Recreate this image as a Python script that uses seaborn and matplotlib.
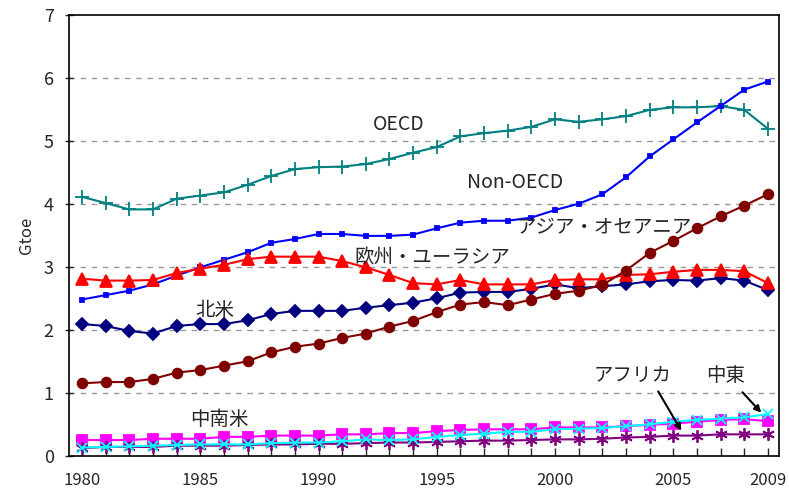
import matplotlib
matplotlib.use("Agg")
import matplotlib.pyplot as plt
import pandas as pd
import numpy as np
import seaborn as sns

# ---------------- data (Gtoe) ----------------
years = list(range(1980, 2010))
oecd = [4.12, 4.02, 3.92, 3.92, 4.09, 4.14, 4.19, 4.31, 4.45, 4.56,
        4.59, 4.60, 4.64, 4.72, 4.82, 4.91, 5.08, 5.13, 5.17, 5.23,
        5.35, 5.31, 5.35, 5.40, 5.50, 5.54, 5.54, 5.56, 5.50, 5.20]
non_oecd = [2.49, 2.56, 2.63, 2.73, 2.87, 3.00, 3.12, 3.24, 3.39, 3.45,
            3.53, 3.53, 3.50, 3.50, 3.52, 3.62, 3.71, 3.74, 3.74, 3.79,
            3.91, 4.01, 4.16, 4.43, 4.76, 5.03, 5.30, 5.56, 5.82, 5.95]
north_america = [2.10, 2.07, 1.99, 1.95, 2.07, 2.10, 2.10, 2.16, 2.26, 2.31,
                 2.31, 2.31, 2.36, 2.40, 2.44, 2.51, 2.60, 2.61, 2.61, 2.66,
                 2.73, 2.67, 2.70, 2.73, 2.78, 2.80, 2.79, 2.83, 2.79, 2.64]
latin_america = [0.26, 0.26, 0.26, 0.28, 0.28, 0.28, 0.31, 0.31, 0.33, 0.33,
                 0.33, 0.35, 0.35, 0.37, 0.37, 0.40, 0.42, 0.43, 0.43, 0.43,
                 0.46, 0.46, 0.46, 0.48, 0.50, 0.52, 0.55, 0.58, 0.59, 0.56]
europe_eurasia = [2.82, 2.79, 2.79, 2.80, 2.91, 2.98, 3.04, 3.13, 3.17, 3.17,
                  3.17, 3.10, 3.00, 2.88, 2.75, 2.73, 2.80, 2.73, 2.73, 2.73,
                  2.80, 2.81, 2.81, 2.88, 2.89, 2.93, 2.96, 2.96, 2.94, 2.75]
africa = [0.13, 0.15, 0.15, 0.15, 0.17, 0.17, 0.17, 0.18, 0.19, 0.19,
          0.20, 0.20, 0.21, 0.22, 0.22, 0.23, 0.24, 0.25, 0.25, 0.26,
          0.27, 0.27, 0.28, 0.30, 0.31, 0.33, 0.33, 0.35, 0.35, 0.35]
middle_east = [0.14, 0.15, 0.16, 0.17, 0.18, 0.19, 0.19, 0.19, 0.21, 0.22,
               0.22, 0.24, 0.27, 0.26, 0.27, 0.31, 0.34, 0.36, 0.39, 0.39,
               0.43, 0.44, 0.45, 0.48, 0.51, 0.55, 0.58, 0.60, 0.62, 0.67]
asia_oceania = [1.16, 1.18, 1.18, 1.23, 1.33, 1.37, 1.44, 1.51, 1.65, 1.74,
                1.79, 1.88, 1.95, 2.06, 2.15, 2.29, 2.41, 2.45, 2.40, 2.49,
                2.58, 2.63, 2.72, 2.95, 3.23, 3.42, 3.62, 3.81, 3.98, 4.16]

x_tick_labels = ["1980", "1985", "1990", "1995", "2000", "2005", "2009"]
y_ticks = [0, 1, 2, 3, 4, 5, 6, 7]

sns.set_style("white")
plt.rcParams['font.family'] = ['Noto Sans CJK JP', 'DejaVu Sans']

fig = plt.figure(figsize=(7.89, 4.95), dpi=100)
ax = fig.add_axes([0.0875, 0.078, 0.8995, 0.891])

# series styles: (values, color, marker, size)
series = [
    (oecd, "#008080", "+", 10),
    (non_oecd, "#0000FF", "s", 3),
    (north_america, "#000080", "D", 6),
    (latin_america, "#FF00FF", "s", 7),
    (europe_eurasia, "#FF0000", "^", 8),
    (africa, "#800080", (6, 2, 0), 9),
    (middle_east, "#00FFFF", "x", 7),
    (asia_oceania, "#800000", "o", 7),
]
for vals, col, mk, ms in series:
    sns.lineplot(x=years, y=vals, ax=ax, color=col, marker=mk, markersize=ms,
                 markeredgecolor=col, markerfacecolor=col, markeredgewidth=1.3,
                 linewidth=1.5)

ax.set_xlim(1979.45, 2009.46)
ax.set_ylim(0, 7)
ax.set_yticks(y_ticks)
ax.set_yticklabels([str(v) for v in y_ticks], fontsize=13)
ax.set_xticks([int(t) for t in x_tick_labels])
ax.set_xticklabels(x_tick_labels, fontsize=12)
ax.set_xticks(years, minor=True)
ax.tick_params(axis="x", which="both", direction="in", length=6, width=1,
               pad=11, bottom=True)
ax.tick_params(axis="y", direction="inout", length=6, width=1, left=True, pad=8)
ax.set_ylabel("Gtoe", fontsize=12, labelpad=6)

for y in y_ticks[1:-1]:
    ax.axhline(y, color="#999999", linestyle=(0, (4, 4)), linewidth=1, zorder=0)

for sp in ax.spines.values():
    sp.set_color("black")
    sp.set_linewidth(1.2)

# labels on the chart
fs = 14
ax.text(1993.4, 5.26, "OECD", fontsize=fs, ha="center", va="center")
ax.text(1998.3, 4.34, "Non-OECD", fontsize=fs, ha="center", va="center")
ax.text(2002.1, 3.62, "アジア・オセアニア", fontsize=fs, ha="center", va="center")
ax.text(1994.8, 3.15, "欧州・ユーラシア", fontsize=fs, ha="center", va="center")
ax.text(1985.6, 2.32, "北米", fontsize=fs, ha="center", va="center")
ax.text(1985.8, 0.59, "中南米", fontsize=fs, ha="center", va="center")
ax.text(2003.3, 1.28, "アフリカ", fontsize=fs, ha="center", va="center")
ax.text(2007.2, 1.28, "中東", fontsize=fs, ha="center", va="center")
ax.annotate("", xy=(2005.4, 0.37), xytext=(2004.3, 1.07),
            arrowprops=dict(arrowstyle="-|>", color="black", lw=1.5,
                            mutation_scale=10))
ax.annotate("", xy=(2008.8, 0.66), xytext=(2007.85, 1.05),
            arrowprops=dict(arrowstyle="-|>", color="black", lw=1.5,
                            mutation_scale=10))

fig.savefig("out.png", dpi=100)
